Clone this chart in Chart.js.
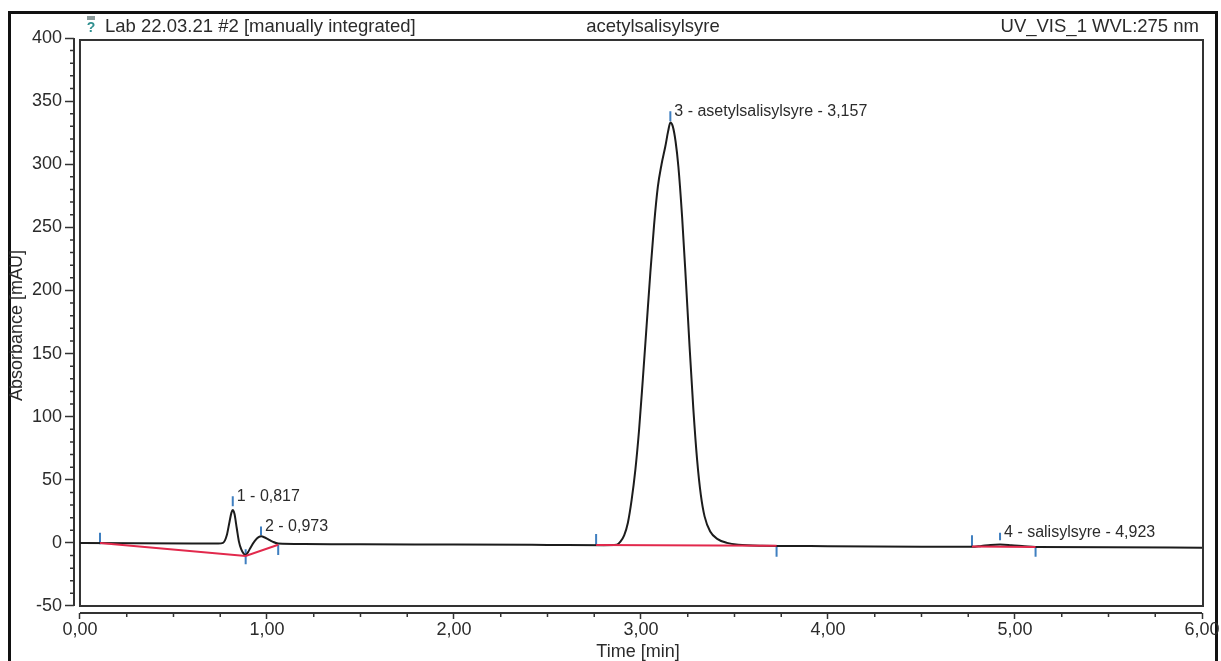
<!DOCTYPE html>
<html>
<head>
<meta charset="utf-8">
<script src="https://cdn.jsdelivr.net/npm/chart.js@4.4.1/dist/chart.umd.min.js"></script>
<style>
html, body { margin: 0; padding: 0; background: #fff; }
#wrap { width: 1221px; height: 661px; position: relative; }
</style>
</head>
<body>
<div id="wrap"><canvas id="myChart"></canvas></div>
<script>
// chromatogram
const traceTime = [0.00, 0.30, 0.60, 0.74, 0.765, 0.785, 0.80, 0.81, 0.817, 0.826, 0.838, 0.85, 0.862, 0.875, 0.886,
  0.898, 0.915, 0.935, 0.955, 0.970, 0.985, 1.005, 1.03, 1.06, 1.20, 1.50, 2.00, 2.50, 2.80, 2.87, 2.89, 2.91, 2.93,
  2.95, 2.97, 2.99, 3.01, 3.03, 3.05, 3.07, 3.09, 3.11, 3.13, 3.145, 3.157, 3.17, 3.185, 3.20, 3.22, 3.24, 3.26, 3.28,
  3.30, 3.32, 3.34, 3.37, 3.41, 3.46, 3.52, 3.65, 4.00, 4.50, 4.77, 4.82, 4.87, 4.92, 4.98, 5.05, 5.11, 5.50, 6.00];
const traceMAU = [0, -0.2, -0.4, -0.5, 0, 6, 17, 24, 26, 23, 12, 1, -5, -8.5, -9.5,
  -7.5, -3, 1.5, 4.5, 5.2, 4.5, 3, 1, -0.5, -0.9, -1.1, -1.3, -1.6, -1.8, -1.5, 1, 6, 16,
  34, 58, 90, 130, 172, 214, 252, 282, 300, 314, 326, 333, 330, 318, 298, 258, 208, 155, 106,
  66, 38, 21, 9, 3, 0, -1.5, -2.3, -2.6, -3, -3.1, -2.4, -1.6, -1.3, -1.8, -2.6, -3.2, -3.4, -3.8];

// integration baselines (red)
const baseline1 = [[0.107, 0], [0.886, -10.3], [1.06, -1.5]];
const baseline2 = [[2.76, -1.6], [3.725, -2.2]];
const baseline3 = [[4.77, -2.8], [5.11, -3.2]];

// peak start / apex / end markers (blue)
const markerTime = [0.107, 0.817, 0.886, 0.968, 1.06, 2.76, 3.157, 3.725, 4.77, 4.92, 5.11];
const markerLow = [-1, 29, -17, 6, -9.5, -1.5, 334, -11, -3, 2, -11];
const markerHigh = [8, 37, -5, 13, -1.5, 7, 342, -3, 6, 8, -3];

const peakLabels = ['1 - 0,817', '2 - 0,973', '3 - asetylsalisylsyre - 3,157', '4 - salisylsyre - 4,923'];
const peakMarker = [1, 3, 6, 9];

const headerTexts = ['Lab 22.03.21 #2 [manually integrated]', 'acetylsalisylsyre', 'UV_VIS_1 WVL:275 nm'];

const xTickValues = [0, 1, 2, 3, 4, 5, 6];
const yTickValues = [-50, 0, 50, 100, 150, 200, 250, 300, 350, 400];
const xMinorStep = 0.25;
const yMinorStep = 10;

const FONT = '"Liberation Sans", Arial, sans-serif';
const INK = '#2b2b2b';

const toXY = pts => pts.map(p => ({x: p[0], y: p[1]}));

const markerData = [];
markerTime.forEach((t, i) => {
  markerData.push({x: t, y: markerLow[i]});
  markerData.push({x: t, y: markerHigh[i]});
  markerData.push({x: t, y: null});
});

const framePlugin = {
  id: 'frame',
  beforeDraw(chart) {
    const ctx = chart.ctx;
    const xs = chart.scales.x, ys = chart.scales.y;
    const x0 = xs.getPixelForValue(0), x6 = xs.getPixelForValue(6);
    const yTop = 40, yBot = ys.getPixelForValue(-50);
    const axisX = chart.chartArea.left, axisY = chart.chartArea.bottom;
    ctx.save();
    // outer page frame
    ctx.strokeStyle = '#111';
    ctx.lineWidth = 3;
    ctx.beginPath();
    ctx.moveTo(9.5, 661); ctx.lineTo(9.5, 12.5); ctx.lineTo(1216.5, 12.5); ctx.lineTo(1216.5, 661);
    ctx.stroke();
    // plot frame
    ctx.strokeStyle = '#333';
    ctx.lineWidth = 2;
    ctx.strokeRect(x0, yTop, x6 + 1 - x0, yBot - yTop);
    // axis lines
    ctx.beginPath();
    ctx.moveTo(axisX, ys.getPixelForValue(400)); ctx.lineTo(axisX, yBot);
    ctx.moveTo(x0, axisY); ctx.lineTo(x6, axisY);
    ctx.stroke();
    // minor ticks
    ctx.lineWidth = 1.5;
    ctx.beginPath();
    for (let v = -50; v <= 400; v += yMinorStep) {
      if (v % 50 === 0) continue;
      const py = ys.getPixelForValue(v);
      ctx.moveTo(axisX - 4, py); ctx.lineTo(axisX, py);
    }
    for (let v = 0; v <= 6; v += xMinorStep) {
      if (Math.abs(v - Math.round(v)) < 1e-6) continue;
      const px = xs.getPixelForValue(v);
      ctx.moveTo(px, axisY); ctx.lineTo(px, axisY + 4);
    }
    ctx.stroke();
    // header row
    ctx.fillStyle = INK;
    ctx.font = '18.5px ' + FONT;
    ctx.textBaseline = 'middle';
    ctx.textAlign = 'left';
    ctx.fillText(headerTexts[0], 105, 27);
    ctx.textAlign = 'center';
    ctx.fillText(headerTexts[1], 653, 27);
    ctx.textAlign = 'right';
    ctx.fillText(headerTexts[2], 1199, 27);
    // little report icon
    ctx.fillStyle = '#8a9a9a';
    ctx.fillRect(87, 16, 8, 4);
    ctx.fillStyle = '#2f8f8f';
    ctx.font = 'bold 14px ' + FONT;
    ctx.textAlign = 'center';
    ctx.fillText('?', 91, 28);
    ctx.restore();
  },
  afterDatasetsDraw(chart) {
    const ctx = chart.ctx;
    const xs = chart.scales.x, ys = chart.scales.y;
    ctx.save();
    ctx.fillStyle = INK;
    ctx.font = '16px ' + FONT;
    ctx.textAlign = 'left';
    ctx.textBaseline = 'middle';
    peakLabels.forEach((txt, i) => {
      const m = peakMarker[i];
      ctx.fillText(txt, xs.getPixelForValue(markerTime[m]) + 4, ys.getPixelForValue(markerHigh[m]));
    });
    ctx.restore();
  }
};

const ctx = document.getElementById('myChart');

new Chart(ctx, {
  type: 'line',
  data: {
    datasets: [
      {
        label: 'baseline 1', data: toXY(baseline1), borderColor: '#e2294c', borderWidth: 2,
        pointRadius: 0, tension: 0
      },
      {
        label: 'baseline 2', data: toXY(baseline2), borderColor: '#e2294c', borderWidth: 2,
        pointRadius: 0, tension: 0
      },
      {
        label: 'baseline 3', data: toXY(baseline3), borderColor: '#e2294c', borderWidth: 2,
        pointRadius: 0, tension: 0
      },
      {
        label: 'UV_VIS_1', data: traceTime.map((t, i) => ({x: t, y: traceMAU[i]})),
        borderColor: '#1c1c1c', borderWidth: 2, pointRadius: 0, cubicInterpolationMode: 'monotone'
      },
      {
        label: 'markers', data: markerData, borderColor: '#3f7fc0', borderWidth: 2,
        pointRadius: 0, tension: 0, spanGaps: false
      }
    ]
  },
  options: {
    responsive: true,
    maintainAspectRatio: false,
    animation: false,
    layout: { padding: { top: 38, right: 19, left: 0, bottom: 0 } },
    plugins: { legend: { display: false }, tooltip: { enabled: false } },
    scales: {
      x: {
        type: 'linear', min: -0.032, max: 6,
        afterBuildTicks: s => { s.ticks = xTickValues.map(v => ({value: v})); },
        afterFit: s => { s.height = 48; },
        border: { display: false },
        grid: { drawOnChartArea: false, tickLength: 6, tickWidth: 1.5, tickColor: '#333' },
        ticks: {
          color: INK, padding: 0, maxRotation: 0, autoSkip: false,
          font: { size: 18, family: FONT },
          callback: v => v.toFixed(2).replace('.', ',')
        },
        title: {
          display: true, text: 'Time [min]', color: INK,
          font: { size: 18, family: FONT, lineHeight: 1 }, padding: { top: 0, bottom: 0 }
        }
      },
      y: {
        min: -55.55, max: 400,
        afterBuildTicks: s => { s.ticks = yTickValues.map(v => ({value: v})); },
        afterFit: s => { s.width = 74; },
        border: { display: false },
        grid: { drawOnChartArea: false, tickLength: 9, tickWidth: 1.5, tickColor: '#333' },
        ticks: { color: INK, padding: 3, font: { size: 18, family: FONT } },
        title: {
          display: true, text: 'Absorbance [mAU]', color: INK,
          font: { size: 18, family: FONT }, padding: { top: 6, bottom: 0 }
        }
      }
    }
  },
  plugins: [framePlugin]
});
</script>
</body>
</html>
